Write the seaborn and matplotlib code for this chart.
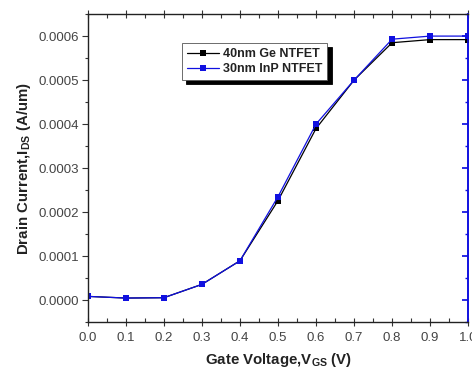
import matplotlib
matplotlib.use("Agg")
import matplotlib.pyplot as plt
import seaborn as sns
import pandas as pd
from matplotlib.ticker import MultipleLocator, FormatStrFormatter

vgs = [0.0, 0.1, 0.2, 0.3, 0.4, 0.5, 0.6, 0.7, 0.8, 0.9, 1.0]
ge_ids = [0.0000083, 0.0000045, 0.0000053, 0.0000356, 0.0000893, 0.000226, 0.00039, 0.0005, 0.000585, 0.000592, 0.000592]
inp_ids = [0.0000083, 0.0000045, 0.0000053, 0.0000356, 0.0000893, 0.000235, 0.0004, 0.0005, 0.000593, 0.0006, 0.0006]
series_names = ["40nm Ge NTFET", "30nm InP NTFET"]

sns.set_theme(style="ticks")
plt.rcParams['font.family'] = ['Liberation Sans', 'DejaVu Sans']
plt.rcParams['mathtext.fontset'] = 'custom'
plt.rcParams['mathtext.rm'] = 'Liberation Sans:bold'
plt.rcParams['mathtext.bf'] = 'Liberation Sans:bold'
plt.rcParams['mathtext.it'] = 'Liberation Sans:bold'

df = pd.DataFrame({
    "Vgs": vgs * 2,
    "Ids": ge_ids + inp_ids,
    "Device": [series_names[0]] * len(vgs) + [series_names[1]] * len(vgs),
})

fig = plt.figure(figsize=(4.72, 3.71), dpi=100)
ax = fig.add_axes([0.186, 0.132, 0.806, 0.830])

sns.lineplot(data=df, x="Vgs", y="Ids", hue="Device", style="Device",
             palette={series_names[0]: "#000000", series_names[1]: "#1010e0"},
             markers={series_names[0]: "s", series_names[1]: "s"},
             dashes=False, markersize=5, linewidth=0.9, markeredgewidth=0,
             ax=ax)

ax.set_xlim(0.0, 1.0)
ax.set_ylim(-0.00005, 0.00065)
ax.xaxis.set_major_locator(MultipleLocator(0.1))
ax.xaxis.set_minor_locator(MultipleLocator(0.05))
ax.yaxis.set_major_locator(MultipleLocator(0.0001))
ax.yaxis.set_minor_locator(MultipleLocator(0.00005))
ax.xaxis.set_major_formatter(FormatStrFormatter('%.1f'))
ax.yaxis.set_major_formatter(FormatStrFormatter('%.4f'))

tc = '#333333'
ax.tick_params(axis='y', which='major', labelsize=9.5, length=4, width=0.8, color=tc, labelcolor='#444444', direction='out', pad=2)
ax.tick_params(axis='y', which='minor', length=2.5, width=0.8, color=tc, direction='out')
ax.tick_params(axis='x', which='major', labelsize=9.5, length=6, width=0.8, color=tc, labelcolor='#444444', direction='inout', pad=4)
ax.tick_params(axis='x', which='minor', length=3, width=0.8, color=tc, direction='in')
ax.tick_params(axis='x', which='both', top=True)
ax.tick_params(axis='y', which='both', right=False)

for s in ('left', 'bottom', 'top'):
    ax.spines[s].set_color('#222222')
    ax.spines[s].set_linewidth(1.0)
ax.spines['right'].set_color('#1010e0')
ax.spines['right'].set_linewidth(1.2)

# right ticks in blue
secy = ax.secondary_yaxis('right')
secy.yaxis.set_major_locator(MultipleLocator(0.0001))
secy.yaxis.set_minor_locator(MultipleLocator(0.00005))
secy.tick_params(which='major', direction='in', length=4, color='#1010e0', labelright=False)
secy.tick_params(which='minor', direction='in', length=2.5, color='#1010e0')
secy.spines['right'].set_color('#1010e0')
secy.spines['right'].set_linewidth(1.2)

ax.set_xlabel(r"Gate Voltage,V$_{GS}$ (V)", fontsize=10.8, fontweight='bold', color='#222222', labelpad=5)
ax.set_ylabel(r"Drain Current,I$_{DS}$ (A/um)", fontsize=10.8, fontweight='bold', color='#222222', labelpad=4)

leg = ax.legend(loc='upper left', bbox_to_anchor=(0.247, 0.906), fontsize=9,
                frameon=True, fancybox=False,
                shadow={'color': 'black', 'alpha': 1.0, 'ox': 3, 'oy': -3},
                handlelength=2.6, markerscale=0.8,
                borderpad=0.4, labelspacing=0.25, handletextpad=0.3, borderaxespad=0)
leg.get_frame().set_edgecolor('#555555')
leg.get_frame().set_linewidth(0.6)
leg.get_frame().set_alpha(1.0)
for t in leg.get_texts():
    t.set_fontweight('bold')
    t.set_color('#222222')

fig.savefig("out.png", dpi=100)
